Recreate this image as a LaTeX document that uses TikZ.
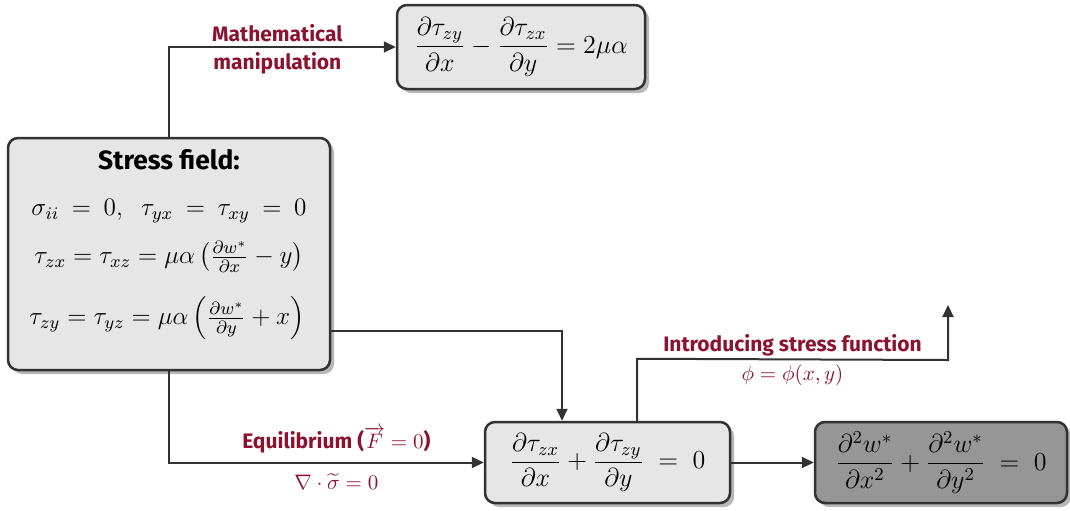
\RequirePackage{fix-cm}
\documentclass[tikz,border=0pt]{standalone}
\usepackage{amsmath}
\usepackage{fontspec}
\setmainfont{Fira Sans}
\usetikzlibrary{arrows.meta,shadows,calc}
\definecolor{lblred}{RGB}{140,18,48}
\definecolor{boxline}{RGB}{50,50,50}
\definecolor{boxfill}{RGB}{230,230,230}
\definecolor{darkfill}{RGB}{150,150,150}
\tikzset{
  eqbox/.style={draw=boxline, line width=1.25pt, rounded corners=5pt, fill=boxfill,
    drop shadow={shadow xshift=2pt, shadow yshift=-2pt, fill=black!28, opacity=1},
    inner sep=3pt, font=\fontsize{13}{16}\selectfont},
  darkbox/.style={eqbox, fill=darkfill},
  conn/.style={draw=boxline, line width=1pt, -{Triangle[length=6pt,width=5.5pt]}},
  lbl/.style={text=lblred, font=\fontsize{10.5}{12.5}\selectfont\bfseries, inner sep=2pt},
  lblm/.style={text=lblred, font=\fontsize{10.5}{12.5}\selectfont, inner sep=2pt},
}
\begin{document}
\begin{tikzpicture}[x=0.5pt,y=-0.5pt]
\useasboundingbox (0,0) rectangle (1070,510);
\node[eqbox, minimum width=161pt, minimum height=116pt, align=center,
      font=\fontsize{12.6}{15}\selectfont] (stress) at (169,254)
 {{\fontsize{13.2}{15}\selectfont\bfseries Stress field:}\\[8pt]
  $\sigma_{ii} \:=\: 0,\;\; \tau_{yx} \:=\: \tau_{xy} \:=\: 0$\\[9pt]
  $\tau_{zx}=\tau_{xz}=\mu\alpha\left(\frac{\partial w^*}{\partial x}-y\right)$\\[11pt]
  $\tau_{zy}=\tau_{yz}=\mu\alpha\left(\frac{\partial w^*}{\partial y}+x\right)\rule[-17pt]{0pt}{17pt}$};
\node[eqbox, minimum width=124pt, minimum height=42pt] (top) at (521,47)
 {$\dfrac{\partial\tau_{zy}}{\partial x}-\dfrac{\partial\tau_{zx}}{\partial y}=2\mu\alpha$};
\node[eqbox, minimum width=122.5pt, minimum height=40.5pt] (mid) at (607.5,462.5)
 {$\dfrac{\partial\tau_{zx}}{\partial x}+\dfrac{\partial\tau_{zy}}{\partial y}\;=\;0$};
\node[darkbox, minimum width=126pt, minimum height=40.5pt] (res) at (941,462.5)
 {$\dfrac{\partial^2 w^*}{\partial x^2}+\dfrac{\partial^2 w^*}{\partial y^2}\;=\;0$};
\coordinate (fe) at (948,305);

\draw[conn] (stress.north) |- (top.west)
  node[pos=0.75, lbl, above, xshift=-2.5pt] {Mathematical}
  node[pos=0.75, lbl, below, xshift=-2.5pt] {manipulation};
\draw[conn] (stress.south) |- (mid.west)
  node[pos=0.75, lbl, above, xshift=5pt, yshift=2pt] {Equilibrium ($\overrightarrow{F}=0$)}
  node[pos=0.75, lblm, below, xshift=5pt, yshift=-3pt] {$\nabla\cdot\widetilde{\sigma}=0$};
\draw[conn] ($(stress.south east)+(0,-40)$) -| ($(mid.north)+(-45.5,0)$);
\draw[conn] ($(mid.north)+(29.5,0)$) -- ($(mid.north)+(29.5,-62)$)
  -- ($(fe)+(0,55)$)
  node[midway, lbl, above, yshift=-1pt] {Introducing stress function}
  node[midway, lblm, below] {$\phi=\phi(x,y)$}
  -- (fe);
\draw[conn] (mid.east) -- (res.west);
\end{tikzpicture}
\end{document}
